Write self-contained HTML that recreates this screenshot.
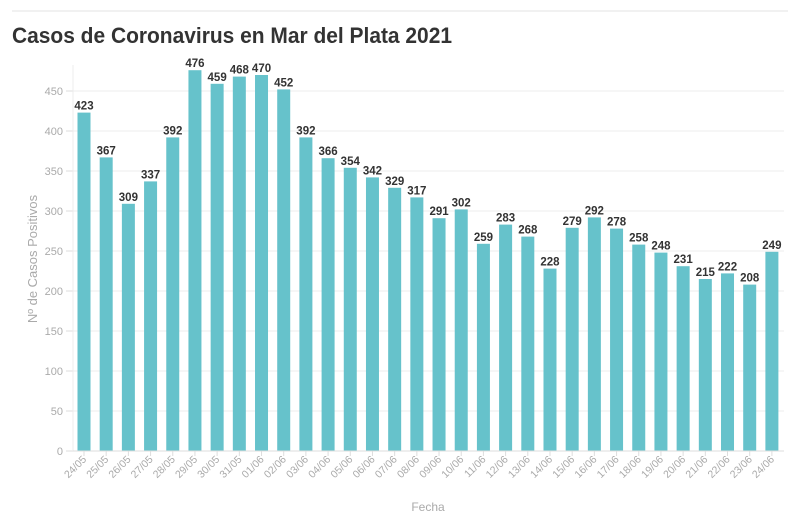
<!DOCTYPE html>
<html><head><meta charset="utf-8"><style>
body{margin:0;background:#fff;}
svg{display:block;font-family:"Liberation Sans",sans-serif;}
</style></head><body>
<svg id="s" width="800" height="523" xmlns="http://www.w3.org/2000/svg">
<line x1="12" y1="11" x2="788" y2="11" stroke="#e3e3e3" stroke-width="1"/>
<text x="12" y="43" font-size="22" font-weight="bold" fill="#333" textLength="440" lengthAdjust="spacingAndGlyphs">Casos de Coronavirus en Mar del Plata 2021</text>
<text transform="translate(37,259) rotate(-90)" text-anchor="middle" font-size="13" fill="#aaa">Nº de Casos Positivos</text>
<text x="428" y="511" text-anchor="middle" font-size="12" fill="#aaa">Fecha</text>
<g id="g"></g>
</svg>
<script>
var d=[];for(var i=24;i<=31;i++)d.push(i+"/05");for(i=1;i<=24;i++)d.push((i<10?"0":"")+i+"/06");
var vals=[423,367,309,337,392,476,459,468,470,452,392,366,354,342,329,317,291,302,259,283,268,228,279,292,278,258,248,231,215,222,208,249];
var h="",base=451,k=0.8;
for(var t=0;t<=450;t+=50){var y=base-t*k;
h+='<line x1="73" x2="784" y1="'+y+'" y2="'+y+'" stroke="#ececec"/>';
h+='<line x1="66" x2="73" y1="'+y+'" y2="'+y+'" stroke="#ddd"/>';
h+='<text x="63" y="'+(y+4)+'" text-anchor="end" font-size="11" fill="#aaa">'+t+'</text>';}
h+='<line x1="73" x2="73" y1="65" y2="'+base+'" stroke="#ececec"/>';
for(i=0;i<vals.length;i++){var cx=84+i*22.19,bh=vals[i]*k;
h+='<rect x="'+(cx-6.5)+'" y="'+(base-bh)+'" width="13" height="'+bh+'" fill="#66c2cb"/>';
h+='<text x="'+cx+'" y="'+(base-bh-3)+'" text-anchor="middle" font-size="11.5" font-weight="bold" fill="#333">'+vals[i]+'</text>';
h+='<line x1="'+cx+'" x2="'+cx+'" y1="'+base+'" y2="'+(base+5)+'" stroke="#ddd"/>';
h+='<text transform="translate('+(cx+3)+','+(base+9)+') rotate(-45)" text-anchor="end" font-size="10.5" fill="#aaa">'+d[i]+'</text>';}
h+='<line x1="73" x2="784" y1="'+base+'" y2="'+base+'" stroke="#ddd"/>';
document.getElementById("g").innerHTML=h;
</script>
</body></html>
